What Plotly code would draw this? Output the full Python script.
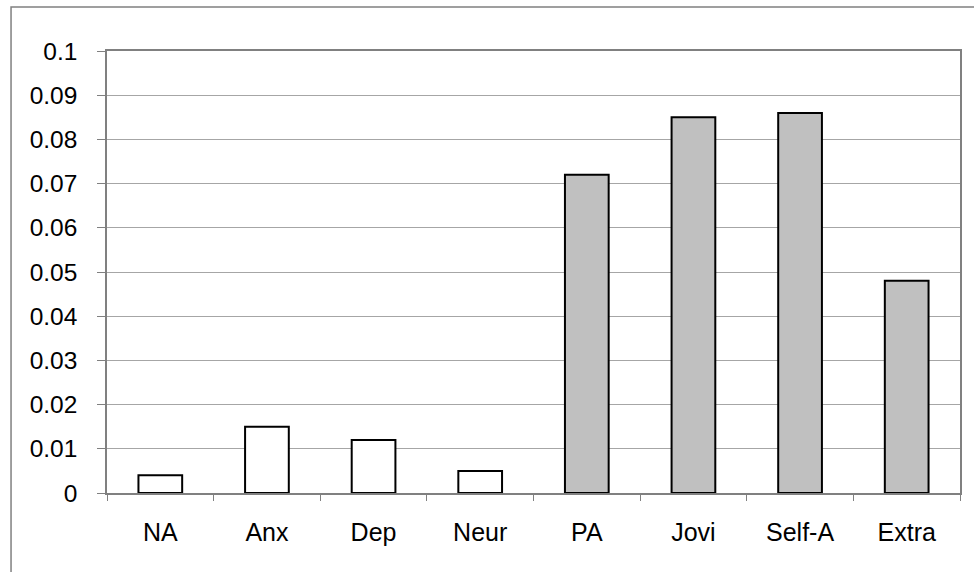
import plotly.graph_objects as go

categories = ["NA", "Anx", "Dep", "Neur", "PA", "Jovi", "Self-A", "Extra"]
values = [0.004, 0.015, 0.012, 0.005, 0.072, 0.085, 0.086, 0.048]
fill_colors = ["#ffffff"] * 4 + ["#c0c0c0"] * 4
y_ticks = [0, 0.01, 0.02, 0.03, 0.04, 0.05, 0.06, 0.07, 0.08, 0.09, 0.1]
y_tick_text = ["0", "0.01", "0.02", "0.03", "0.04", "0.05", "0.06", "0.07", "0.08", "0.09", "0.1"]

fig = go.Figure(
    go.Bar(
        x=categories,
        y=values,
        marker=dict(color=fill_colors, line=dict(color="#000000", width=2)),
        width=0.41,
    )
)

yfont = dict(family="Liberation Sans, Arial, sans-serif", size=24.5, color="#000000")
xfont = dict(family="Liberation Sans, Arial, sans-serif", size=25, color="#000000")

fig.update_layout(
    width=974,
    height=572,
    margin=dict(l=107, r=14, t=51, b=79),
    paper_bgcolor="#ffffff",
    plot_bgcolor="#ffffff",
    showlegend=False,
    font=yfont,
    xaxis=dict(
        showline=True,
        linecolor="#808080",
        linewidth=1.5,
        mirror=True,
        ticks="outside",
        tickson="boundaries",
        ticklen=6,
        tickcolor="#808080",
        tickfont=xfont,
        ticklabelstandoff=16,
        showgrid=False,
    ),
    yaxis=dict(
        range=[0, 0.1],
        tickvals=y_ticks,
        ticktext=y_tick_text,
        showline=True,
        linecolor="#808080",
        linewidth=1.5,
        mirror=True,
        ticks="outside",
        ticklen=8,
        tickcolor="#808080",
        tickfont=yfont,
        ticklabelstandoff=15,
        showgrid=True,
        gridcolor="#a6a6a6",
        gridwidth=1,
        zeroline=False,
    ),
    shapes=[
        dict(
            type="rect",
            xref="paper",
            yref="paper",
            x0=-0.1125,
            x1=1.05,
            y0=-0.3,
            y1=1.0995,
            line=dict(color="#808080", width=1.5),
            fillcolor="rgba(0,0,0,0)",
            layer="below",
        )
    ],
)

fig.write_html(
    "out.html",
    config={"displayModeBar": False},
    post_script="document.body.style.margin='0';document.body.style.overflow='hidden';",
)
